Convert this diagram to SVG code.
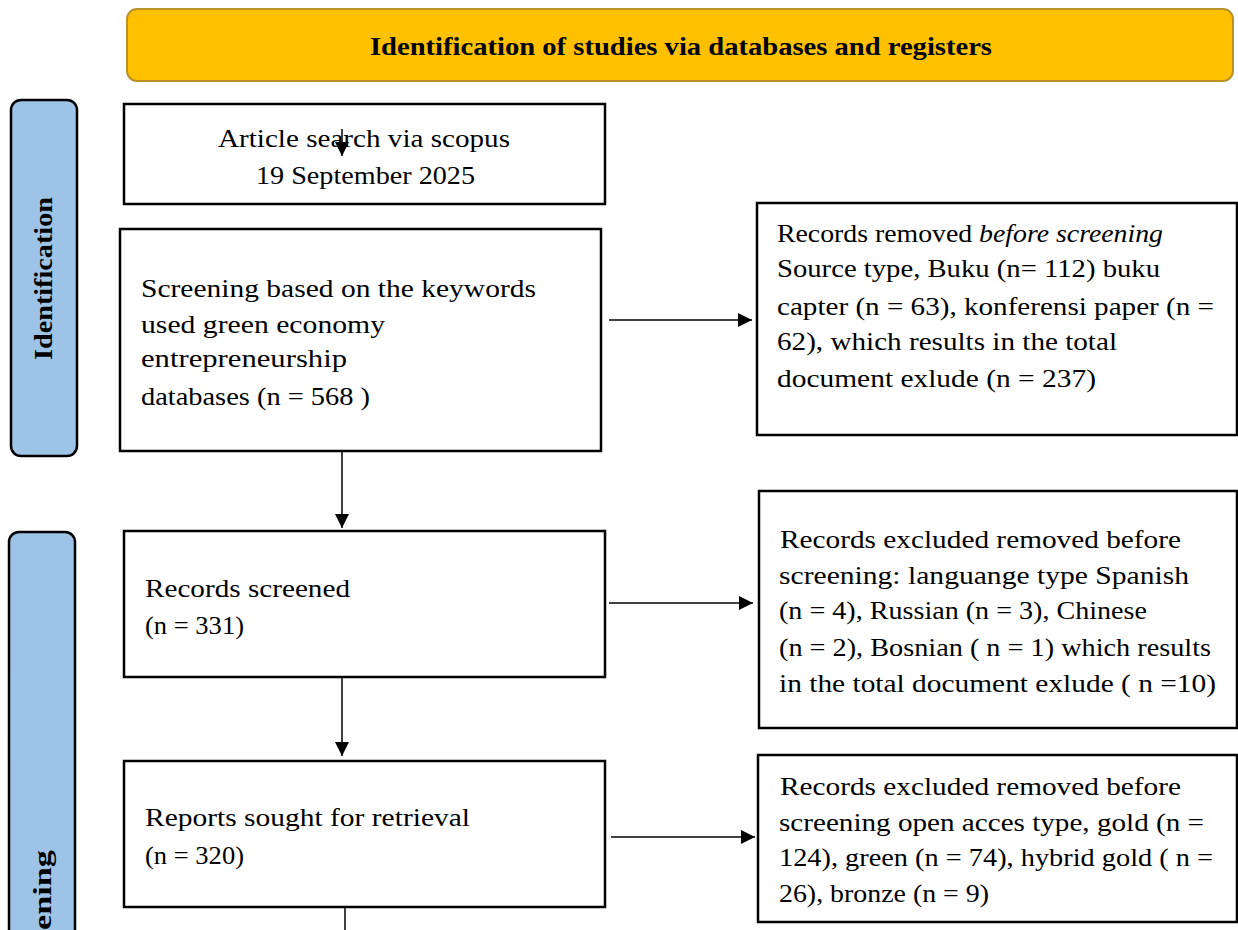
<svg xmlns="http://www.w3.org/2000/svg" width="1238" height="930" viewBox="0 0 1238 930">
<style>
  .box { fill: #ffffff; stroke: #000000; stroke-width: 2.5; }
  .side { fill: #9DC3E6; stroke: #000000; stroke-width: 2.5; }
  .t { font-family: "Liberation Serif", "Times New Roman", serif; font-size: 26px; fill: #000000; }
  .b { font-family: "Liberation Serif", "Times New Roman", serif; font-size: 25px; font-weight: bold; fill: #000000; }
  .c { stroke: #000000; stroke-width: 1.5; fill: none; }
</style>
<defs>
  <marker id="arrbig" viewBox="0 0 10 10" refX="10" refY="5" markerWidth="15" markerHeight="14" markerUnits="userSpaceOnUse" orient="auto">
    <path d="M0,0 L10,5 L0,10 Z" fill="#000000"/>
  </marker>
</defs>

<g id="banner">
  <rect x="127" y="9" width="1106" height="72" rx="10" fill="#FFC000" stroke="#B8922A" stroke-width="2"/>
  <text class="b" x="370" y="55" font-size="23" textLength="622" lengthAdjust="spacingAndGlyphs">Identification of studies via databases and registers</text>
</g>

<g id="side-identification">
  <rect class="side" x="11" y="100" width="66" height="356" rx="10"/>
  <text class="b" transform="translate(52,360) rotate(-90)" textLength="163" lengthAdjust="spacingAndGlyphs">Identification</text>
</g>

<g id="side-screening">
  <rect class="side" x="9" y="532" width="66" height="420" rx="10"/>
  <text class="b" transform="translate(51,930) rotate(-90)" textLength="80" lengthAdjust="spacingAndGlyphs">ening</text>
</g>

<g id="box-search">
  <rect class="box" x="124" y="104" width="481" height="100"/>
  <text class="t" x="218" y="147" textLength="292" lengthAdjust="spacingAndGlyphs">Article search via scopus</text>
  <text class="t" x="256" y="184" textLength="219" lengthAdjust="spacingAndGlyphs">19 September 2025</text>
</g>

<g id="box-keywords">
  <rect class="box" x="120" y="229" width="481" height="222"/>
  <text class="t" x="141" y="297" textLength="395" lengthAdjust="spacingAndGlyphs">Screening based on the keywords</text>
  <text class="t" x="141" y="333" textLength="244" lengthAdjust="spacingAndGlyphs">used green economy</text>
  <text class="t" x="141" y="367" textLength="206" lengthAdjust="spacingAndGlyphs">entrepreneurship</text>
  <text class="t" x="141" y="405" textLength="229" lengthAdjust="spacingAndGlyphs">databases (n = 568 )</text>
</g>

<g id="box-removed">
  <rect class="box" x="757" y="203" width="480" height="232"/>
  <text class="t" x="777" y="242" textLength="386" lengthAdjust="spacingAndGlyphs">Records removed <tspan font-style="italic">before screening</tspan></text>
  <text class="t" x="777" y="277" textLength="383" lengthAdjust="spacingAndGlyphs">Source type, Buku (n= 112) buku</text>
  <text class="t" x="777" y="315" textLength="437" lengthAdjust="spacingAndGlyphs">capter (n = 63),  konferensi paper (n =</text>
  <text class="t" x="777" y="350" textLength="340" lengthAdjust="spacingAndGlyphs">62), which results in the total</text>
  <text class="t" x="777" y="387" textLength="319" lengthAdjust="spacingAndGlyphs">document exlude  (n = 237)</text>
</g>

<g id="box-screened">
  <rect class="box" x="124" y="531" width="481" height="146"/>
  <text class="t" x="145" y="597" textLength="205" lengthAdjust="spacingAndGlyphs">Records screened</text>
  <text class="t" x="145" y="634" textLength="99" lengthAdjust="spacingAndGlyphs">(n = 331)</text>
</g>

<g id="box-language">
  <rect class="box" x="759" y="491" width="478" height="237"/>
  <text class="t" x="780" y="548" textLength="401" lengthAdjust="spacingAndGlyphs">Records excluded removed before</text>
  <text class="t" x="779" y="584" textLength="410" lengthAdjust="spacingAndGlyphs">screening: languange type Spanish</text>
  <text class="t" x="779" y="619" textLength="368" lengthAdjust="spacingAndGlyphs">(n = 4), Russian (n = 3), Chinese</text>
  <text class="t" x="779" y="656" textLength="432" lengthAdjust="spacingAndGlyphs">(n = 2), Bosnian ( n = 1) which results</text>
  <text class="t" x="779" y="692" textLength="437" lengthAdjust="spacingAndGlyphs">in the total document exlude  ( n =10)</text>
</g>

<g id="box-retrieval">
  <rect class="box" x="124" y="761" width="481" height="146"/>
  <text class="t" x="145" y="826" textLength="325" lengthAdjust="spacingAndGlyphs">Reports sought for retrieval</text>
  <text class="t" x="145" y="864" textLength="99" lengthAdjust="spacingAndGlyphs">(n = 320)</text>
</g>

<g id="box-openaccess">
  <rect class="box" x="758" y="755" width="479" height="167"/>
  <text class="t" x="780" y="795" textLength="401" lengthAdjust="spacingAndGlyphs">Records excluded removed before</text>
  <text class="t" x="779" y="831" textLength="425" lengthAdjust="spacingAndGlyphs">screening open acces type, gold (n =</text>
  <text class="t" x="779" y="866" textLength="434" lengthAdjust="spacingAndGlyphs">124), green (n = 74), hybrid gold ( n =</text>
  <text class="t" x="779" y="902" textLength="210" lengthAdjust="spacingAndGlyphs">26), bronze (n = 9)</text>
</g>

<g id="connectors">
  <line class="c" x1="342" y1="129" x2="342" y2="156" stroke-width="1.2" marker-end="url(#arrbig)"/>
  <line class="c" x1="609" y1="320" x2="752" y2="320" marker-end="url(#arrbig)"/>
  <line class="c" x1="342" y1="451" x2="342" y2="528" marker-end="url(#arrbig)"/>
  <line class="c" x1="609" y1="603" x2="753" y2="603" marker-end="url(#arrbig)"/>
  <line class="c" x1="342" y1="677" x2="342" y2="756" marker-end="url(#arrbig)"/>
  <line class="c" x1="611" y1="837" x2="755" y2="837" marker-end="url(#arrbig)"/>
  <line class="c" x1="345" y1="907" x2="345" y2="930"/>
</g>
</svg>
